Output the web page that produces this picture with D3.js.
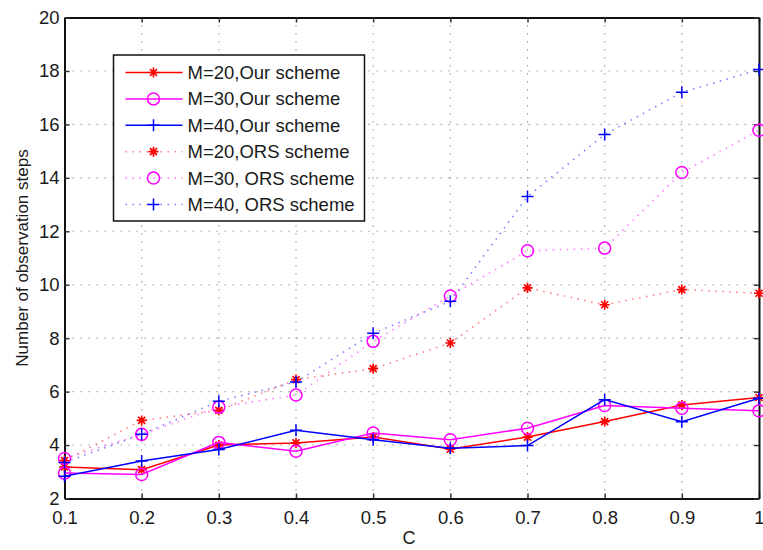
<!DOCTYPE html>
<html>
<head>
<meta charset="utf-8">
<script src="https://cdn.jsdelivr.net/npm/d3@7"></script>
<style>
  body { margin: 0; background: #fff; }
  text { font-family: "Liberation Sans", Arial, sans-serif; fill: #1a1a1a; }
</style>
</head>
<body>
<script>
// x values (C)
const cValues = [0.1, 0.2, 0.3, 0.4, 0.5, 0.6, 0.7, 0.8, 0.9, 1];
const xTicks = [0.1, 0.2, 0.3, 0.4, 0.5, 0.6, 0.7, 0.8, 0.9, 1];
const yTicks = [2, 4, 6, 8, 10, 12, 14, 16, 18, 20];

// series values
const our20 = [3.18, 3.08, 4.0, 4.08, 4.3, 3.85, 4.3, 4.88, 5.5, 5.78];
const our30 = [2.95, 2.9, 4.1, 3.77, 4.45, 4.2, 4.63, 5.48, 5.38, 5.28];
const our40 = [2.83, 3.4, 3.83, 4.55, 4.2, 3.88, 3.98, 5.7, 4.87, 5.75];
const ors20 = [3.42, 4.92, 5.3, 6.45, 6.86, 7.82, 9.88, 9.25, 9.82, 9.68];
const ors30 = [3.5, 4.4, 5.42, 5.87, 7.88, 9.58, 11.27, 11.37, 14.2, 15.78];
const ors40 = [3.35, 4.4, 5.64, 6.36, 8.18, 9.38, 13.3, 15.62, 17.2, 18.05];

const seriesNames = ["M=20,Our scheme", "M=30,Our scheme", "M=40,Our scheme",
                     "M=20,ORS scheme", "M=30, ORS scheme", "M=40, ORS scheme"];

const series = [
  { name: seriesNames[0], values: our20, color: "#ff0000", marker: "star", dotted: false },
  { name: seriesNames[1], values: our30, color: "#ff00ff", marker: "circle", dotted: false },
  { name: seriesNames[2], values: our40, color: "#0000ff", marker: "plus", dotted: false },
  { name: seriesNames[3], values: ors20, color: "#ff0000", marker: "star", dotted: true },
  { name: seriesNames[4], values: ors30, color: "#ff00ff", marker: "circle", dotted: true },
  { name: seriesNames[5], values: ors40, color: "#0000ff", marker: "plus", dotted: true }
];

const W = 763, H = 550;
const m = { left: 64.5, right: 4, top: 17.5, bottom: 51.5 };

const svg = d3.select("body").append("svg")
  .attr("width", W).attr("height", H);

const x = d3.scaleLinear().domain([0.1, 1]).range([m.left, W - m.right]);
const y = d3.scaleLinear().domain([2, 20]).range([H - m.bottom, m.top]);

// grid
const grid = svg.append("g")
  .attr("stroke", "#8a8a8a").attr("stroke-width", 1.1)
  .attr("stroke-dasharray", "1.2,6.8");
grid.selectAll(".gx").data(xTicks.slice(1, -1)).join("line")
  .attr("x1", d => x(d)).attr("x2", d => x(d))
  .attr("y1", y(2)).attr("y2", y(20));
grid.selectAll(".gy").data(yTicks.slice(1, -1)).join("line")
  .attr("x1", x(0.1)).attr("x2", x(1))
  .attr("y1", d => y(d)).attr("y2", d => y(d));

// axes
const fmt = d => d === 1 ? "1" : d3.format(".1f")(d);
const xAxis = svg.append("g").attr("transform", `translate(0,${y(2)})`)
  .call(d3.axisBottom(x).tickValues(xTicks).tickFormat(fmt).tickSizeInner(-5).tickSizeOuter(0).tickPadding(12));
const xAxisTop = svg.append("g").attr("transform", `translate(0,${y(20)})`)
  .call(d3.axisTop(x).tickValues(xTicks).tickFormat("").tickSizeInner(-5).tickSizeOuter(0));
const yAxis = svg.append("g").attr("transform", `translate(${x(0.1)},0)`)
  .call(d3.axisLeft(y).tickValues(yTicks).tickSizeInner(-5).tickSizeOuter(0).tickPadding(5));
const yAxisRight = svg.append("g").attr("transform", `translate(${x(1)},0)`)
  .call(d3.axisRight(y).tickValues(yTicks).tickFormat("").tickSizeInner(-5).tickSizeOuter(0));

[xAxis, xAxisTop, yAxis, yAxisRight].forEach(g => {
  g.attr("font-size", null).attr("font-family", null);
  g.select(".domain").attr("stroke", "#111").attr("stroke-width", 2);
  g.selectAll(".tick line").attr("stroke", "#333").attr("stroke-width", 1.5);
  g.selectAll("text").style("font-size", "18.5px").attr("fill", "#1a1a1a");
});
// last x label sits at the right edge, keep it inside the window
xAxis.selectAll(".tick text").filter(d => d === 1).attr("text-anchor", "end").attr("dx", 5);

// axis titles
svg.append("text").attr("x", 409).attr("y", 544)
  .attr("text-anchor", "middle").style("font-size", "18px").text("C");
svg.append("text")
  .attr("transform", `translate(28,${y(11)}) rotate(-90)`)
  .attr("text-anchor", "middle").style("font-size", "17px")
  .text("Number of observation steps");

// markers
function drawMarker(g, type, color) {
  if (type === "circle") {
    g.append("circle").attr("r", 6).attr("fill", "none")
      .attr("stroke", color).attr("stroke-width", 1.5);
  } else if (type === "plus") {
    g.append("path").attr("d", "M-6,0H6M0,-6V6")
      .attr("stroke", color).attr("stroke-width", 1.5);
  } else {
    g.append("path").attr("d", "M-5,0H5M0,-5V5M-3.5,-3.5L3.5,3.5M-3.5,3.5L3.5,-3.5")
      .attr("stroke", color).attr("stroke-width", 1.7);
  }
}

const line = d3.line().x((d, i) => x(cValues[i])).y(d => y(d));
const plot = svg.append("g");

series.forEach(s => {
  plot.append("path").datum(s.values)
    .attr("d", line).attr("fill", "none")
    .attr("stroke", s.color)
    .attr("stroke-width", s.dotted ? 1.6 : 1.5)
    .attr("stroke-opacity", s.dotted ? 0.5 : 1)
    .attr("stroke-dasharray", s.dotted ? "1.5,5.5" : null);
  s.values.forEach((v, i) => {
    const g = plot.append("g").attr("transform", `translate(${x(cValues[i])},${y(v)})`);
    drawMarker(g, s.marker, s.color);
  });
});

// legend
const lg = svg.append("g").attr("transform", "translate(113.5,55)");
lg.append("rect").attr("width", 251).attr("height", 166)
  .attr("fill", "#fff").attr("stroke", "#111").attr("stroke-width", 1.5);
series.forEach((s, i) => {
  const row = lg.append("g").attr("transform", `translate(0,${17.5 + i * 26.4})`);
  row.append("line").attr("x1", 12).attr("x2", 69)
    .attr("stroke", s.color)
    .attr("stroke-width", s.dotted ? 1.6 : 1.5)
    .attr("stroke-opacity", s.dotted ? 0.5 : 1)
    .attr("stroke-dasharray", s.dotted ? "1.5,5.5" : null);
  drawMarker(row.append("g").attr("transform", "translate(40,0)"), s.marker, s.color);
  row.append("text").attr("x", 74).attr("y", 6.5).style("font-size", "18.5px").text(s.name);
});
</script>
</body>
</html>
